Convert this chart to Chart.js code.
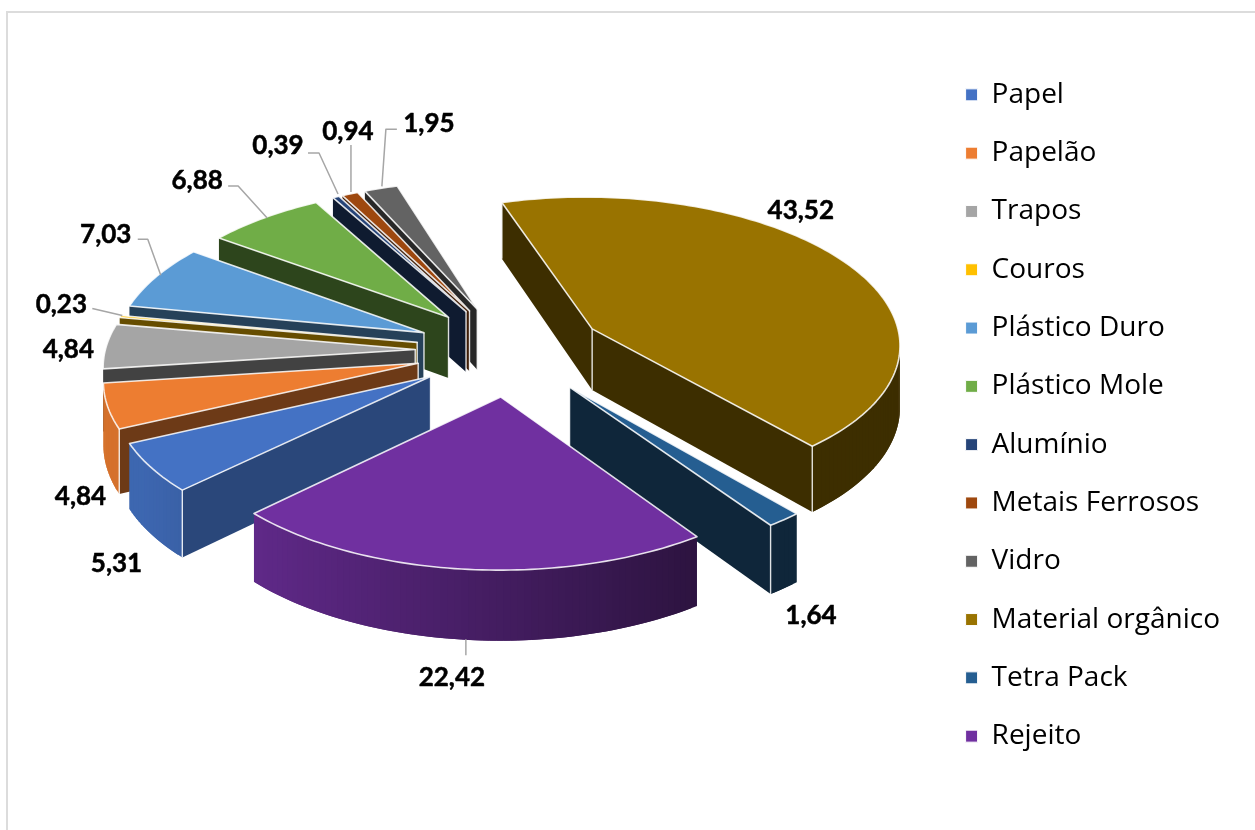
<!DOCTYPE html>
<html lang="pt">
<head>
    <meta charset="UTF-8">
    <title>Composição dos resíduos</title>
    <script src="https://cdn.jsdelivr.net/npm/chart.js@4.4.2/dist/chart.umd.min.js"></script>
    <style>
        body { margin: 0; background: #fff; }
        #frame { position: absolute; left: 6px; top: 11px; right: 0; bottom: 0; border-top: 2px solid #dcdcdc; border-left: 2px solid #dcdcdc; }
        canvas { position: absolute; left: 0; top: 0; }
    </style>
</head>
<body>
    <div id="frame"></div>
    <canvas id="wastechart" width="1255" height="830"></canvas>

    <script>
        const categories = ['Papel', 'Papelão', 'Trapos', 'Couros', 'Plástico Duro', 'Plástico Mole', 'Alumínio', 'Metais Ferrosos', 'Vidro', 'Material orgânico', 'Tetra Pack', 'Rejeito'];
        const values = [5.31, 4.84, 4.84, 0.23, 7.03, 6.88, 0.39, 0.94, 1.95, 43.52, 1.64, 22.42];
        const colors = ['#4472c4', '#ed7d31', '#a5a5a5', '#ffc000', '#5b9bd5', '#70ad47', '#264478', '#9e480e', '#636363', '#997300', '#255e91', '#7030a0'];
        const wallShades = [0.62, 0.46, 0.4, 0.4, 0.42, 0.4, 0.4, 0.4, 0.4, 0.4, 0.4, 0.4];

        // where each value label sits, relative to the outer middle of its slice
        const labelOffsets = [[-35, 95], [-27, 89], [-38, 2], [-59, -13], [-50, -44], [-67, -38], [-58, -52], [-2, -63], [48, -66], [-44, -53], [27, 95], [-13, 107]];
        const leaders = [null, null, null, [[2, -1], [-28, -8]], [[5, -2], [-8, -38], [-18, -38]], [[3, 0], [-26, -32], [-36, -32]], [[2, -3], [-17, -44], [-28, -44]], [[1, -2], [1, -49]], [[1, -2], [5, -59], [16, -59]], null, null, [[1, 70], [1, 86]]];

        const tilt = 0.477;
        const viewDist = 3330;
        const thickness = 62;
        const lift = 65;

        function shade(hex, f) {
            const n = parseInt(hex.slice(1), 16);
            return 'rgb(' + [n >> 16, (n >> 8) & 255, n & 255].map(c => Math.round(c * f)).join(',') + ')';
        }

        const pie3d = {
            id: 'pie3d',
            beforeDatasetDraw(chart, args) {
                const ctx = chart.ctx;
                const arcs = args.meta.data;
                const cx = arcs[0].x;
                const cy = arcs[0].y - lift;

                function proj(x, y, z) {
                    const s = viewDist / (viewDist - y);
                    return [cx + x * s, cy + y * tilt * s + z * thickness * s];
                }

                function quad(a, b, c, d, fill) {
                    ctx.fillStyle = fill;
                    ctx.beginPath();
                    ctx.moveTo(a[0], a[1]);
                    ctx.lineTo(b[0], b[1]);
                    ctx.lineTo(c[0], c[1]);
                    ctx.lineTo(d[0], d[1]);
                    ctx.closePath();
                    ctx.fill();
                }

                // a wall faces the viewer when its corners run this way round
                function faces(a, b, c, d) {
                    const pts = [a, b, c, d];
                    let t = 0;
                    pts.forEach((p, i) => {
                        const q = pts[(i + 1) % 4];
                        t += p[0] * q[1] - q[0] * p[1];
                    });
                    return t < 0;
                }

                // back slices first
                const order = arcs.map((a, i) => i).sort((i, j) => {
                    const mi = (arcs[i].startAngle + arcs[i].endAngle) / 2;
                    const mj = (arcs[j].startAngle + arcs[j].endAngle) / 2;
                    return Math.sin(mi) - Math.sin(mj);
                });

                const anchors = [];
                order.forEach(i => {
                    const arc = arcs[i];
                    const color = colors[i];
                    const r = arc.outerRadius;
                    const off = arc.options.offset;
                    const mid = (arc.startAngle + arc.endAngle) / 2;
                    const ox = Math.cos(mid) * off;
                    const oy = Math.sin(mid) * off;
                    const steps = Math.max(2, Math.ceil((arc.endAngle - arc.startAngle) / 0.02));

                    const rim = [];
                    for (let k = 0; k <= steps; k++) {
                        const a = arc.startAngle + (arc.endAngle - arc.startAngle) * k / steps;
                        rim.push({ a, x: ox + Math.cos(a) * r, y: oy + Math.sin(a) * r });
                    }
                    anchors[i] = proj(ox + Math.cos(mid) * r, oy + Math.sin(mid) * r, 0);

                    const apexTop = proj(ox, oy, 0);
                    const apexBase = proj(ox, oy, 1);
                    const first = rim[0];
                    const last = rim[rim.length - 1];
                    const dark = shade(color, wallShades[i]);
                    const fa = proj(first.x, first.y, 0);
                    const fb = proj(first.x, first.y, 1);
                    const la = proj(last.x, last.y, 0);
                    const lb = proj(last.x, last.y, 1);

                    const startVisible = faces(apexTop, fa, fb, apexBase);
                    const endVisible = faces(la, apexTop, apexBase, lb);
                    if (startVisible) quad(apexTop, fa, fb, apexBase, dark);
                    if (endVisible) quad(la, apexTop, apexBase, lb, dark);

                    // each piece of the rim runs one step too far, so no seams show
                    let rimVisible = false;
                    for (let k = 0; k < steps; k++) {
                        const p = rim[k];
                        const q = rim[k + 1];
                        const e = rim[Math.min(k + 2, steps)];
                        const n = Math.cos((p.a + q.a) / 2);
                        const f = Math.min(0.9, Math.max(0.4, 0.6 - 0.35 * n));
                        if (faces(proj(p.x, p.y, 0), proj(q.x, q.y, 0), proj(q.x, q.y, 1), proj(p.x, p.y, 1))) {
                            quad(proj(p.x, p.y, 0), proj(e.x, e.y, 0), proj(e.x, e.y, 1), proj(p.x, p.y, 1), shade(color, f));
                            rimVisible = true;
                        }
                    }

                    // light edges between the faces
                    const verticals = [];
                    if (startVisible || endVisible) verticals.push([apexTop, apexBase]);
                    if (startVisible && rimVisible) verticals.push([fa, fb]);
                    if (endVisible && rimVisible) verticals.push([la, lb]);
                    ctx.strokeStyle = 'rgba(255,255,255,0.85)';
                    ctx.lineWidth = 1.4;
                    verticals.forEach(v => {
                        ctx.beginPath();
                        ctx.moveTo(v[0][0], v[0][1]);
                        ctx.lineTo(v[1][0], v[1][1]);
                        ctx.stroke();
                    });

                    ctx.beginPath();
                    ctx.moveTo(apexTop[0], apexTop[1]);
                    rim.forEach(p => {
                        const t = proj(p.x, p.y, 0);
                        ctx.lineTo(t[0], t[1]);
                    });
                    ctx.closePath();
                    ctx.fillStyle = color;
                    ctx.fill();
                    ctx.strokeStyle = 'rgba(255,255,255,0.85)';
                    ctx.lineWidth = 1.6;
                    ctx.lineJoin = 'round';
                    ctx.stroke();
                });

                // leader lines and value labels
                ctx.strokeStyle = '#a6a6a6';
                ctx.lineWidth = 1.5;
                leaders.forEach((line, i) => {
                    if (!line) return;
                    ctx.beginPath();
                    line.forEach((o, k) => {
                        const x = anchors[i][0] + o[0];
                        const y = anchors[i][1] + o[1];
                        if (k === 0) ctx.moveTo(x, y);
                        else ctx.lineTo(x, y);
                    });
                    ctx.stroke();
                });

                ctx.fillStyle = '#000';
                ctx.strokeStyle = '#000';
                ctx.lineWidth = 0.5;
                ctx.font = 'bold 26px Lato';
                ctx.textAlign = 'center';
                ctx.textBaseline = 'middle';
                values.forEach((v, i) => {
                    const text = v.toFixed(2).replace('.', ',');
                    const x = anchors[i][0] + labelOffsets[i][0];
                    const y = anchors[i][1] + labelOffsets[i][1] + 1;
                    ctx.fillText(text, x, y);
                    ctx.strokeText(text, x, y);
                });

                return false;
            }
        };

        new Chart(document.getElementById('wastechart'), {
            type: 'pie',
            data: {
                labels: categories,
                datasets: [{
                    data: values,
                    backgroundColor: colors,
                    borderColor: '#fff',
                    borderWidth: 1,
                    offset: 95,
                }]
            },
            options: {
                responsive: false,
                animation: false,
                rotation: 226,
                radius: 310,
                layout: { padding: { left: 85, right: 25, top: 5, bottom: 4 } },
                plugins: {
                    tooltip: { enabled: false },
                    legend: {
                        position: 'right',
                        labels: {
                            boxWidth: 12,
                            boxHeight: 12,
                            padding: 30.3,
                            color: '#000',
                            font: { family: 'Open Sans', size: 28 },
                        }
                    }
                }
            },
            plugins: [pie3d]
        });
    </script>
</body>
</html>
